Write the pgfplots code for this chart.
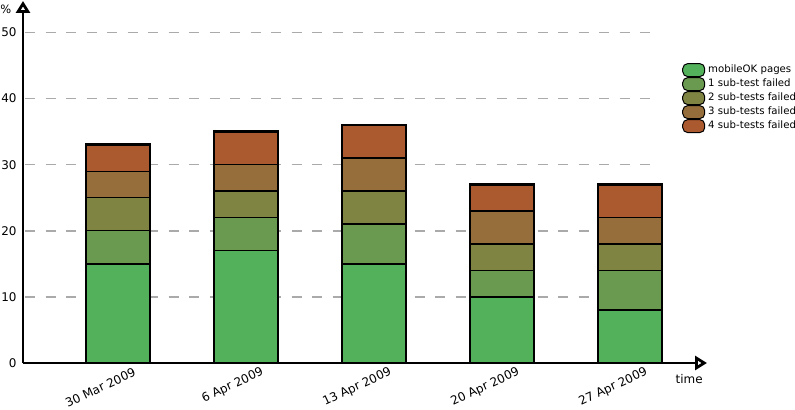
\documentclass[border=0pt]{standalone}
\usepackage{fontspec}
\setmainfont{DejaVu Sans}
\usepackage{pgfplots}
\pgfplotsset{compat=1.18}
\usetikzlibrary{arrows.meta}
\definecolor{c0}{RGB}{83,176,91}
\definecolor{c1}{RGB}{106,154,80}
\definecolor{c2}{RGB}{128,132,67}
\definecolor{c3}{RGB}{150,110,59}
\definecolor{c4}{RGB}{171,90,47}
\definecolor{gridc}{RGB}{170,170,170}
\pgfplotsset{
  base/.style={
    scale only axis, width=684bp, height=362bp,
    xmin=-0.742, xmax=4.602, ymin=0, ymax=54.76,
    bar width=0.5,
  },
}
\begin{document}
\begin{tikzpicture}
\useasboundingbox (-23bp,-47bp) rectangle (772bp,363bp);
% grid only
\begin{axis}[scale only axis, width=629bp, height=362bp,
  xmin=0, xmax=1, ymin=0, ymax=54.76,
  axis line style={draw=none}, xtick=\empty, ytick={10,20,30,40,50},
  yticklabels={}, major tick length=0pt,
  ymajorgrids, grid style={gridc, line width=1.5bp, dash pattern=on 10bp off 10.5bp, dash phase=-2bp}]
\addplot[draw=none] coordinates {(0,0) (1,1)};
\end{axis}
\begin{axis}[base, ybar stacked,
  axis lines=left,
  axis line style={line width=2.8bp},
  x axis line style={-{Triangle[open, length=12bp, width=14bp]}},
  y axis line style={-{Triangle[open, length=12bp, width=14bp]}},
  xtick={0,1,2,3,4},
  xticklabels={30 Mar 2009, 6 Apr 2009, 13 Apr 2009, 20 Apr 2009, 27 Apr 2009},
  ytick={0,10,20,30,40,50},
  major tick length=0pt,
  /pgf/number format/assume math mode=true,
  yticklabel style={font=\fontsize{12}{14}\selectfont, xshift=-3bp},
  xticklabel style={font=\fontsize{12}{14}\selectfont, anchor=east, xshift=20bp, yshift=-7bp, rotate=25},
  xlabel={time},
  xlabel style={font=\fontsize{12}{14}\selectfont, at={(axis description cs:0.974,-0.044)}, anchor=center},
  ylabel={\%},
  ylabel style={font=\fontsize{11.5}{14}\selectfont, rotate=-90, at={(axis description cs:-0.025,0.978)}, anchor=center},
  clip=false,
  legend cell align=left,
  legend style={at={(axis description cs:0.9635,0.829)}, anchor=north west,
    draw=none, fill=none, inner sep=0pt, row sep=0bp, column sep=3bp,
    font=\fontsize{10.2}{12}\selectfont,
    nodes={inner sep=0pt, text height=7.5bp, text depth=2.5bp}},
  legend image code/.code={\draw[#1, draw=black, line width=1bp, rounded corners=5bp] (0bp,-6.5bp) rectangle (22bp,6.5bp);},
]
\addplot[fill=c0, draw=black, line width=1.4bp] coordinates {(0,15) (1,17) (2,15) (3,10) (4,8)};
\addplot[fill=c1, draw=black, line width=1.4bp] coordinates {(0,5) (1,5) (2,6) (3,4) (4,6)};
\addplot[fill=c2, draw=black, line width=1.4bp] coordinates {(0,5) (1,4) (2,5) (3,4) (4,4)};
\addplot[fill=c3, draw=black, line width=1.4bp] coordinates {(0,4) (1,4) (2,5) (3,5) (4,4)};
\addplot[fill=c4, draw=black, line width=1.4bp] coordinates {(0,4) (1,5) (2,5) (3,4) (4,5)};
\legend{mobileOK pages, 1 sub-test failed, 2 sub-tests failed, 3 sub-tests failed, 4 sub-tests failed}
\end{axis}
\begin{axis}[base, ybar, axis lines=none]
\addplot[fill=none, draw=black, line width=2.8bp] coordinates {(0,33) (1,35) (2,36) (3,27) (4,27)};
\end{axis}
\end{tikzpicture}
\end{document}
